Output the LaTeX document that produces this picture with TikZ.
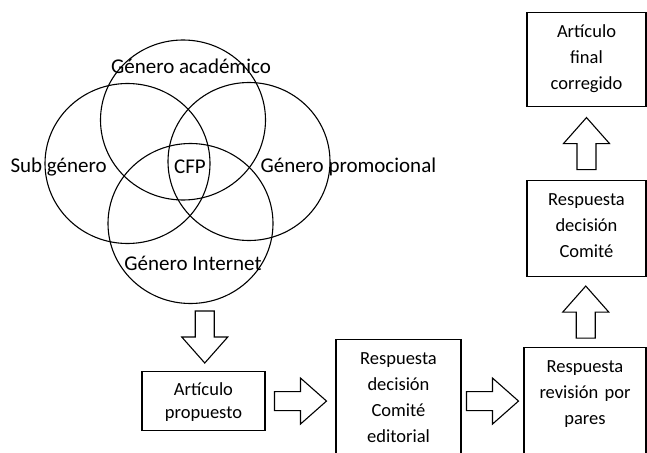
\documentclass[tikz,border=0pt]{standalone}
\usepackage{fontspec}
\setmainfont{Carlito}
\usetikzlibrary{calc}

\begin{document}
\begin{tikzpicture}[x=1pt, y=-1pt, line width=1.1pt]
    \tikzstyle{stage} = [draw, align=center, anchor=north, inner sep=0pt, text height=25pt, font=\fontsize{18.5}{26}\selectfont]
    \tikzstyle{lbl} = [inner sep=0pt, font=\fontsize{21}{24}\selectfont]
    \tikzset{barrow/.pic={
        \draw[fill=white] (-26,-9.5) -- (0,-9.5) -- (0,-23) -- (26,0) -- (0,23) -- (0,9.5) -- (-26,9.5) -- cycle;
    }}
    \useasboundingbox (0,0) rectangle (647,452);

    % genre circles
    \draw (183,120) ellipse [x radius=82.5pt, y radius=80pt];
    \draw (127.5,163.5) ellipse [x radius=82.5pt, y radius=80pt];
    \draw (249,161.5) ellipse [x radius=81pt, y radius=79pt];
    \draw (190.5,223.5) ellipse [x radius=82.5pt, y radius=80pt];
    \coordinate (vbot) at (206,303);

    \node[lbl, anchor=base] (acad) at (191,74) {Género académico};
    \node[lbl, anchor=base west] (sub) at (10,172) {Sub género};
    \node[lbl, anchor=base] (cfp) at (190,173) {CFP};
    \node[lbl, anchor=base west] (prom) at (260,172) {Género promocional};
    \node[lbl, anchor=base] (inet) at (193,270) {Género Internet};

    % process boxes
    \node[stage, text width=123pt, text height=23.5pt, text depth=35.5pt, font=\fontsize{18.5}{23}\selectfont] (art) at (203.5,371) {Artículo\\propuesto};
    \node[stage, text width=125pt, text depth=130pt] (edit) at (398.5,339) {Respuesta\\decisión\\Comité\\editorial};
    \node[stage, text width=122pt, text depth=130pt] (rev) at (585,347) {Respuesta\\revisión por\\pares};
    \node[stage, text width=119pt, text depth=71pt] (com) at (586.5,180) {Respuesta\\decisión\\Comité};
    \node[stage, text width=119pt, text depth=69pt] (fin) at (586.5,12) {Artículo\\final\\corregido};

    % block arrows
    \pic[rotate=-90] at ($(vbot)!0.5!(art.north)$) {barrow};
    \pic at ($(art.east)!0.5!(art.east -| edit.west)$) {barrow};
    \pic at ($(edit.east |- art.east)!0.5!(rev.west |- art.east)$) {barrow};
    \pic[rotate=90] at ($(rev.north)!0.5!(com.south)$) {barrow};
    \pic[rotate=90] at ($(com.north)!0.5!(fin.south)$) {barrow};
\end{tikzpicture}
\end{document}
